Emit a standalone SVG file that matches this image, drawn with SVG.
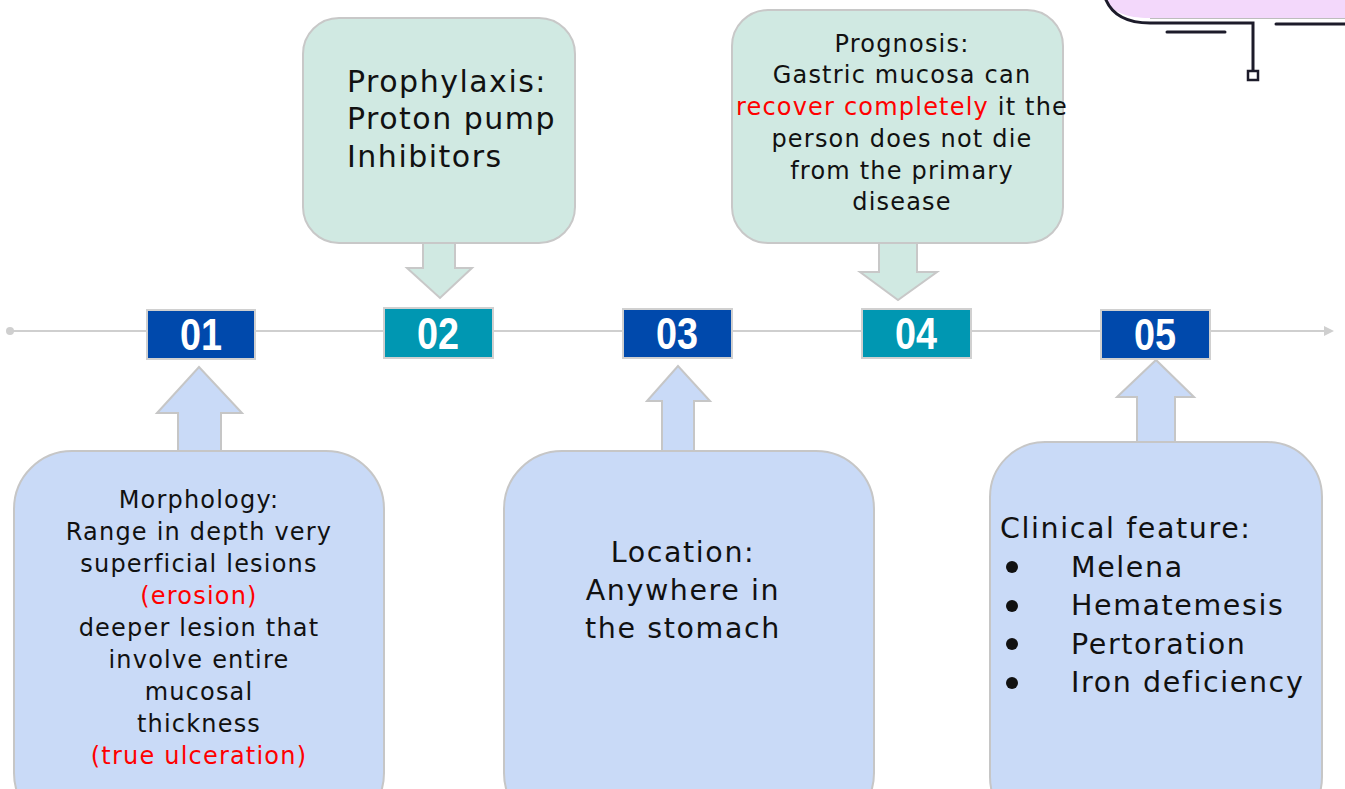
<svg xmlns="http://www.w3.org/2000/svg" width="1345" height="789" viewBox="0 0 1345 789">
<defs>
<style>
.t{font-family:"DejaVu Sans","Open Sans",sans-serif;fill:#111;}
.c{text-anchor:middle;}
.red{fill:#ff0000;}
.num{font-family:"Liberation Sans",Arial,sans-serif;font-weight:bold;font-size:44px;fill:#fff;text-anchor:middle;}
.navy{fill:#0049ac;stroke:#d0d0d0;stroke-width:2;}
.teal{fill:#0097b2;stroke:#d0d0d0;stroke-width:2;}
.mint{fill:#d0e9e2;stroke:#c8c8c8;stroke-width:2;}
.blue{fill:#c9daf7;stroke:#c6c6c6;stroke-width:2;}
.dark{fill:none;stroke:#1c1b2a;stroke-width:3;stroke-linecap:round;}
</style>
<marker id="ah" markerWidth="10" markerHeight="10" refX="8" refY="5" orient="auto" markerUnits="userSpaceOnUse">
<path d="M0,0 L10,5 L0,10 Z" fill="#cfcfcf"/>
</marker>
</defs>
<rect width="1345" height="789" fill="#ffffff"/>

<!-- top-right decoration -->
<g id="decoration">
<path d="M1106,0 C1112,12 1126,18 1150,18 L1345,18 L1345,0 Z" fill="#f3d8fb"/>
<path d="M1150,18.5 L1345,18.5" stroke="#bdbdbd" stroke-width="1"/>
<path class="dark" d="M1106,0 C1112,14 1126,23 1150,23 L1253,23 L1253,71"/>
<rect x="1248" y="71" width="10" height="9" fill="#fff" stroke="#1c1b2a" stroke-width="2.5"/>
<path class="dark" d="M1276,24 L1345,24"/>
<path class="dark" d="M1167,32 L1225,32"/>
</g>

<!-- connectors -->
<g id="connectors">
<line x1="10" y1="331" x2="1332" y2="331" stroke="#cfcfcf" stroke-width="2" marker-end="url(#ah)"/>
<circle cx="10" cy="331" r="4" fill="#cfcfcf"/>
<path class="mint" d="M423,243 L455,243 L455,268 L472,268 L440,298 L407,268 L423,268 Z"/>
<path class="mint" d="M879,243 L917,243 L917,272 L937,272 L898,300 L860,272 L879,272 Z"/>
<path class="blue" d="M178,451 L178,413 L157,413 L199,367 L242,413 L221,413 L221,451"/>
<path class="blue" d="M662,451 L662,401 L647,401 L678,366 L710,401 L694,401 L694,451"/>
<path class="blue" d="M1137,442 L1137,397 L1117,397 L1156,360 L1194,397 L1175,397 L1175,442"/>
</g>

<!-- number boxes -->
<g id="n01"><rect class="navy" x="147" y="310" width="108" height="49"/><text class="num" x="201" y="350" textLength="42" lengthAdjust="spacingAndGlyphs">01</text></g>
<g id="n02"><rect class="teal" x="384" y="308" width="109" height="50"/><text class="num" x="438" y="349" textLength="42" lengthAdjust="spacingAndGlyphs">02</text></g>
<g id="n03"><rect class="navy" x="623" y="309" width="109" height="49"/><text class="num" x="677" y="349" textLength="42" lengthAdjust="spacingAndGlyphs">03</text></g>
<g id="n04"><rect class="teal" x="862" y="309" width="109" height="49"/><text class="num" x="916" y="349" textLength="42" lengthAdjust="spacingAndGlyphs">04</text></g>
<g id="n05"><rect class="navy" x="1101" y="310" width="109" height="49"/><text class="num" x="1155" y="350" textLength="42" lengthAdjust="spacingAndGlyphs">05</text></g>

<!-- Prophylaxis -->
<g id="prophylaxis">
<rect class="mint" x="303" y="18" width="272" height="225" rx="36"/>
<g class="t" font-size="30" letter-spacing="1.5">
<text x="347" y="92">Prophylaxis:</text>
<text x="347" y="129">Proton pump</text>
<text x="347" y="167">Inhibitors</text>
</g>
</g>

<!-- Prognosis -->
<g id="prognosis">
<rect class="mint" x="732" y="10" width="331" height="233" rx="36"/>
<g class="t c" font-size="24" letter-spacing="1.2">
<text x="902" y="52">Prognosis:</text>
<text x="902" y="83">Gastric mucosa can</text>
<text x="902" y="115"><tspan class="red">recover completely</tspan> it the</text>
<text x="902" y="147">person does not die</text>
<text x="902" y="179">from the primary</text>
<text x="902" y="210">disease</text>
</g>
</g>

<!-- Morphology -->
<g id="morphology">
<rect class="blue" x="14" y="451" width="370" height="380" rx="58"/>
<g class="t c" font-size="24" letter-spacing="1.2">
<text x="199" y="508">Morphology:</text>
<text x="199" y="540">Range in depth very</text>
<text x="199" y="572">superficial lesions</text>
<text x="199" y="604" class="red">(erosion)</text>
<text x="199" y="636">deeper lesion that</text>
<text x="199" y="668">involve entire</text>
<text x="199" y="700">mucosal</text>
<text x="199" y="732">thickness</text>
<text x="199" y="764" class="red">(true ulceration)</text>
</g>
</g>

<!-- Location -->
<g id="location">
<rect class="blue" x="504" y="451" width="370" height="380" rx="58"/>
<g class="t c" font-size="28.5" letter-spacing="1.6">
<text x="683" y="562">Location:</text>
<text x="683" y="600">Anywhere in</text>
<text x="683" y="638">the stomach</text>
</g>
</g>

<!-- Clinical feature -->
<g id="clinical">
<rect class="blue" x="990" y="442" width="332" height="390" rx="55"/>
<g class="t" font-size="28.5" letter-spacing="1.6">
<text x="1000" y="538">Clinical feature:</text>
<text x="1071" y="577">Melena</text>
<text x="1071" y="615">Hematemesis</text>
<text x="1071" y="654">Pertoration</text>
<text x="1071" y="692">Iron deficiency</text>
</g>
<g fill="#111">
<circle cx="1012" cy="567" r="6"/>
<circle cx="1012" cy="606" r="6"/>
<circle cx="1012" cy="644" r="6"/>
<circle cx="1012" cy="683" r="6"/>
</g>
</g>
</svg>
